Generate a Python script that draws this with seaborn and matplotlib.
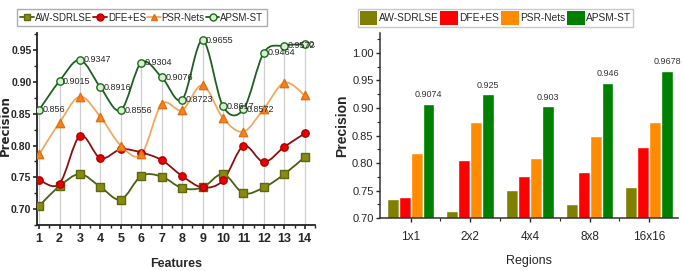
import numpy as np
import pandas as pd
import matplotlib.pyplot as plt
import seaborn as sns
from matplotlib import font_manager
from matplotlib.path import Path
from matplotlib.patches import PathPatch, Patch
from matplotlib.lines import Line2D
from matplotlib.ticker import MultipleLocator

# ---- data ----
methods = ['AW-SDRLSE', 'DFE+ES', 'PSR-Nets', 'APSM-ST']
features = list(range(1, 15))

aw_feat = [0.705, 0.736, 0.755, 0.735, 0.715, 0.752, 0.751, 0.733, 0.734, 0.755, 0.725, 0.734, 0.755, 0.782]
dfe_feat = [0.746, 0.740, 0.815, 0.780, 0.794, 0.789, 0.777, 0.752, 0.734, 0.745, 0.799, 0.774, 0.798, 0.819]
psr_feat = [0.786, 0.836, 0.877, 0.845, 0.800, 0.786, 0.865, 0.856, 0.895, 0.843, 0.822, 0.858, 0.899, 0.879]
apsm_feat = [0.856, 0.9015, 0.9347, 0.8916, 0.8556, 0.9304, 0.9076, 0.8723, 0.9655, 0.8617, 0.8572, 0.9464, 0.9572, 0.9596]
apsm_feat_labels = ['0.856', '0.9015', '0.9347', '0.8916', '0.8556', '0.9304', '0.9076',
                    '0.8723', '0.9655', '0.8617', '0.8572', '0.9464', '0.9572', '0.9596']

regions = ['1x1', '2x2', '4x4', '8x8', '16x16']
aw_reg = [0.735, 0.713, 0.752, 0.725, 0.756]
dfe_reg = [0.738, 0.805, 0.777, 0.783, 0.829]
psr_reg = [0.819, 0.875, 0.809, 0.850, 0.875]
apsm_reg = [0.9074, 0.925, 0.903, 0.946, 0.9678]
apsm_reg_labels = ['0.9074', '0.925', '0.903', '0.946', '0.9678']

sns.set_style('white')
installed = {f.name for f in font_manager.fontManager.ttflist}
base_font = 'Liberation Sans Narrow' if 'Liberation Sans Narrow' in installed else 'Liberation Sans'
plt.rcParams['font.family'] = [base_font, 'DejaVu Sans']

line_cols = ['#4b5e12', '#8b1010', '#f0a860', '#1f5f1f']
face_cols = ['#8a8a10', '#e80000', '#f5821f', '#d8efd0']
edge_cols = ['#5a6a10', '#b00000', '#e07010', '#1a6b1a']
mk = ['s', 'o', '^', 'o']
bar_cols = ['#808000', '#ff0000', '#ff8c00', '#008000']

feat_df = pd.DataFrame({'Features': features * 4,
                        'Precision': aw_feat + dfe_feat + psr_feat + apsm_feat,
                        'Method': np.repeat(methods, len(features))})
reg_df = pd.DataFrame({'Regions': regions * 4,
                       'Precision': aw_reg + dfe_reg + psr_reg + apsm_reg,
                       'Method': np.repeat(methods, len(regions))})

fig = plt.figure(figsize=(6.82, 2.71), dpi=100)
ax1 = fig.add_axes([0.0543, 0.170, 0.4076, 0.708])
ax2 = fig.add_axes([0.557, 0.195, 0.437, 0.683])


def smooth_path(xs, ys):
    # Catmull-Rom curve through the points, drawn as bezier segments
    p = np.column_stack([xs, ys]).astype(float)
    p_ext = np.vstack([p[0], p, p[-1]])
    verts = [p[0]]
    codes = [Path.MOVETO]
    for i in range(len(p) - 1):
        p0, p1, p2, p3 = p_ext[i], p_ext[i + 1], p_ext[i + 2], p_ext[i + 3]
        verts += [p1 + (p2 - p0) / 6, p2 - (p3 - p1) / 6, p2]
        codes += [Path.CURVE4] * 3
    return Path(verts, codes)


# ---- left: precision vs features ----
ax1.vlines(features, 0.675, apsm_feat, color='#cfcfcf', lw=0.9, zorder=0)
for i, m in enumerate(methods):
    sub = feat_df[feat_df['Method'] == m]
    ax1.add_patch(PathPatch(smooth_path(sub['Features'], sub['Precision']),
                            fc='none', ec=line_cols[i], lw=1.3, zorder=2))
    sns.scatterplot(data=sub, x='Features', y='Precision', marker=mk[i],
                    color=face_cols[i], edgecolor=edge_cols[i], linewidth=1.0,
                    s=28 if mk[i] != '^' else 36, ax=ax1, zorder=3, legend=False)
for x, y, t in zip(features, apsm_feat, apsm_feat_labels):
    ax1.text(x + 0.17, y, t, fontsize=6.5, va='center', ha='left', clip_on=True, zorder=4)

ax1.set_xlim(0.9, 14.5)
ax1.set_ylim(0.675, 0.977)
ax1.set_xticks(features)
ax1.xaxis.set_minor_locator(MultipleLocator(0.5))
ax1.set_yticks([0.70, 0.75, 0.80, 0.85, 0.90, 0.95])
ax1.yaxis.set_minor_locator(MultipleLocator(0.025))
ax1.set_yticklabels(['0.70', '0.75', '0.80', '0.85', '0.90', '0.95'])
ax1.tick_params(axis='both', which='major', direction='out', length=3, width=1.2,
                labelsize=7.5, pad=1, bottom=True, left=True)
ax1.tick_params(axis='x', which='major', labelsize=9, pad=3)
ax1.tick_params(axis='both', which='minor', direction='out', length=2, width=1.0,
                bottom=True, left=True)
for lab in ax1.get_xticklabels() + ax1.get_yticklabels():
    lab.set_fontweight('bold')
ax1.set_xlabel('Features', fontsize=9, fontweight='bold', labelpad=9)
ax1.set_ylabel('Precision', fontsize=8.5, fontweight='bold', family='DejaVu Sans')
ax1.yaxis.set_label_coords(-0.089, 0.52)
sns.despine(ax=ax1)
for s in ['left', 'bottom']:
    ax1.spines[s].set_linewidth(1.3)
    ax1.spines[s].set_color('#222222')

handles1 = [Line2D([], [], color=line_cols[i], lw=1.3, marker=mk[i], markersize=5,
                   markerfacecolor=face_cols[i], markeredgecolor=edge_cols[i])
            for i in range(4)]
fig.legend(handles1, methods, loc='upper left', bbox_to_anchor=(0.025, 0.965), ncol=4,
           fontsize=7, frameon=True, fancybox=False, edgecolor='#999999',
           handlelength=1.4, handletextpad=0.1, columnspacing=0.1, borderpad=0.35,
           borderaxespad=0)

# ---- right: precision vs regions ----
sns.barplot(data=reg_df, x='Regions', y='Precision', hue='Method', palette=bar_cols,
            width=0.8, saturation=1, ax=ax2, legend=False)
for i, t in enumerate(apsm_reg_labels):
    ax2.text(i + 0.3, apsm_reg[i] + 0.008, t, fontsize=6.5, ha='center', va='bottom',
             color='#333333')
ax2.set_xlim(-0.515, 4.48)
ax2.set_ylim(0.70, 1.036)
ax2.set_yticks([0.70, 0.75, 0.80, 0.85, 0.90, 0.95, 1.00])
ax2.set_yticklabels(['0.70', '0.75', '0.80', '0.85', '0.90', '0.95', '1.00'])
ax2.yaxis.set_minor_locator(MultipleLocator(0.025))
ax2.set_xticks([0.5, 1.5, 2.5, 3.5], minor=True)
ax2.tick_params(axis='both', which='major', direction='out', length=3, width=1.0,
                labelsize=8, pad=1.5, bottom=True, left=True)
ax2.tick_params(axis='both', which='minor', direction='out', length=2, width=0.8,
                bottom=True, left=True)
ax2.tick_params(axis='x', which='major', labelsize=8.5, pad=6)
ax2.set_xlabel('Regions', fontsize=9, labelpad=9)
ax2.set_ylabel('Precision', fontsize=10, fontweight='bold')
ax2.yaxis.set_label_coords(-0.103, 0.5)
sns.despine(ax=ax2)
for s in ['left', 'bottom']:
    ax2.spines[s].set_linewidth(1.1)
    ax2.spines[s].set_color('#333333')

handles2 = [Patch(facecolor=c, edgecolor='none') for c in bar_cols]
fig.legend(handles2, methods, loc='upper left', bbox_to_anchor=(0.525, 0.965), ncol=4,
           fontsize=7.3, frameon=True, fancybox=False, edgecolor='#bbbbbb',
           handlelength=1.75, handleheight=1.8, handletextpad=0.15, columnspacing=0.15,
           borderpad=0.15, borderaxespad=0)

fig.savefig('out.png', dpi=100)
